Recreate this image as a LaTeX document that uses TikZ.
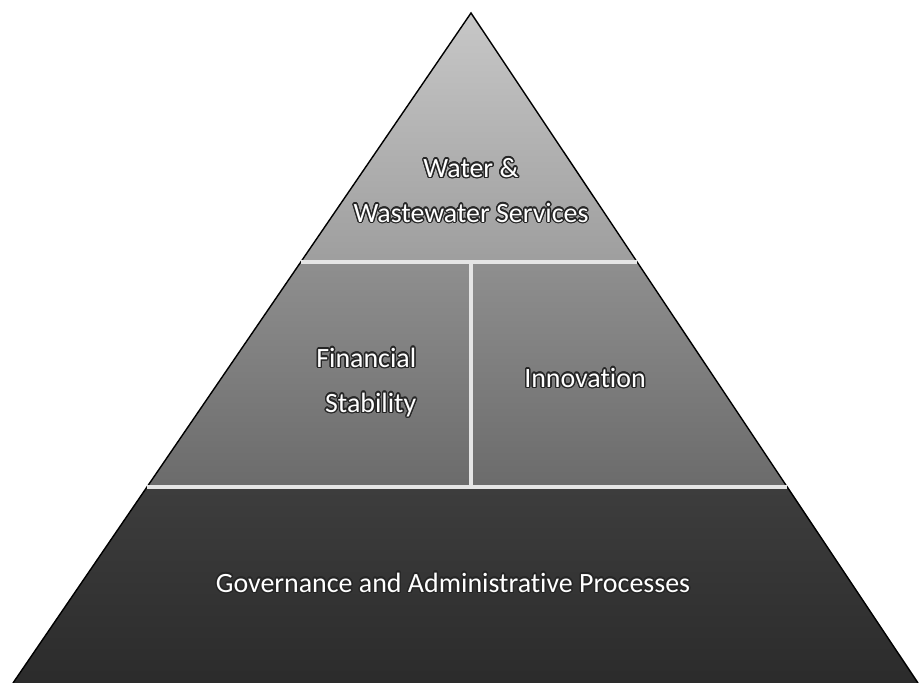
\documentclass[tikz,border=0pt]{standalone}
\usepackage{fontspec}
\setmainfont{Carlito}[Ligatures={NoCommon,NoContextual}]
\usepackage{contour}
\contourlength{0.8pt}
\usetikzlibrary{calc}
\newcommand{\sh}[1]{\contour{black!85}{#1}}
\tikzset{
  lbl/.style={text=white,font=\fontsize{15.9}{25.6}\selectfont,inner sep=0pt},
  sep/.style={draw=white!90!black,line width=1.8pt},
  every picture/.style={line width=0.8pt},
}

\begin{document}
\begin{tikzpicture}[x=0.02cm,y=-0.02cm]
\useasboundingbox (0,0) rectangle (920,683);
\coordinate (top) at (471,13); \coordinate (bl) at (13,683); \coordinate (br) at (918,683);
\coordinate (l1) at ($(top)!0.3716!(bl)$); \coordinate (r1) at ($(top)!0.3716!(br)$);
\coordinate (l2) at ($(top)!0.7075!(bl)$); \coordinate (r2) at ($(top)!0.7075!(br)$);
\coordinate (m1) at (471,262); \coordinate (m2) at (471,487);
% tiers
\shade[top color=black!22,bottom color=black!38] (top) -- (r1) -- (l1) -- cycle;
\shade[top color=black!44,bottom color=black!58] (l1) -- (r1) -- (r2) -- (l2) -- cycle;
\shade[top color=black!76,bottom color=black!83] (l2) -- (r2) -- (br) -- (bl) -- cycle;
\draw (bl) -- (top) -- (br);
\draw[sep] (l1) -- (r1); \draw[sep] (m1) -- (m2); \draw[sep] (l2) -- (r2);
% labels
\node[lbl,align=center,anchor=base] (water) at (471,222) {\sh{Water \&}\\\sh{Wastewater Services}};
\node[lbl,align=right,anchor=base east] (fin) at (417,412) {\sh{Financial}\\\sh{Stability}};
\node[lbl,anchor=base] (innov) at (585,387) {\sh{Innovation}};
\node[lbl,anchor=base] (gov) at (453,592) {\sh{Governance and Administrative Processes}};
\end{tikzpicture}
\end{document}
